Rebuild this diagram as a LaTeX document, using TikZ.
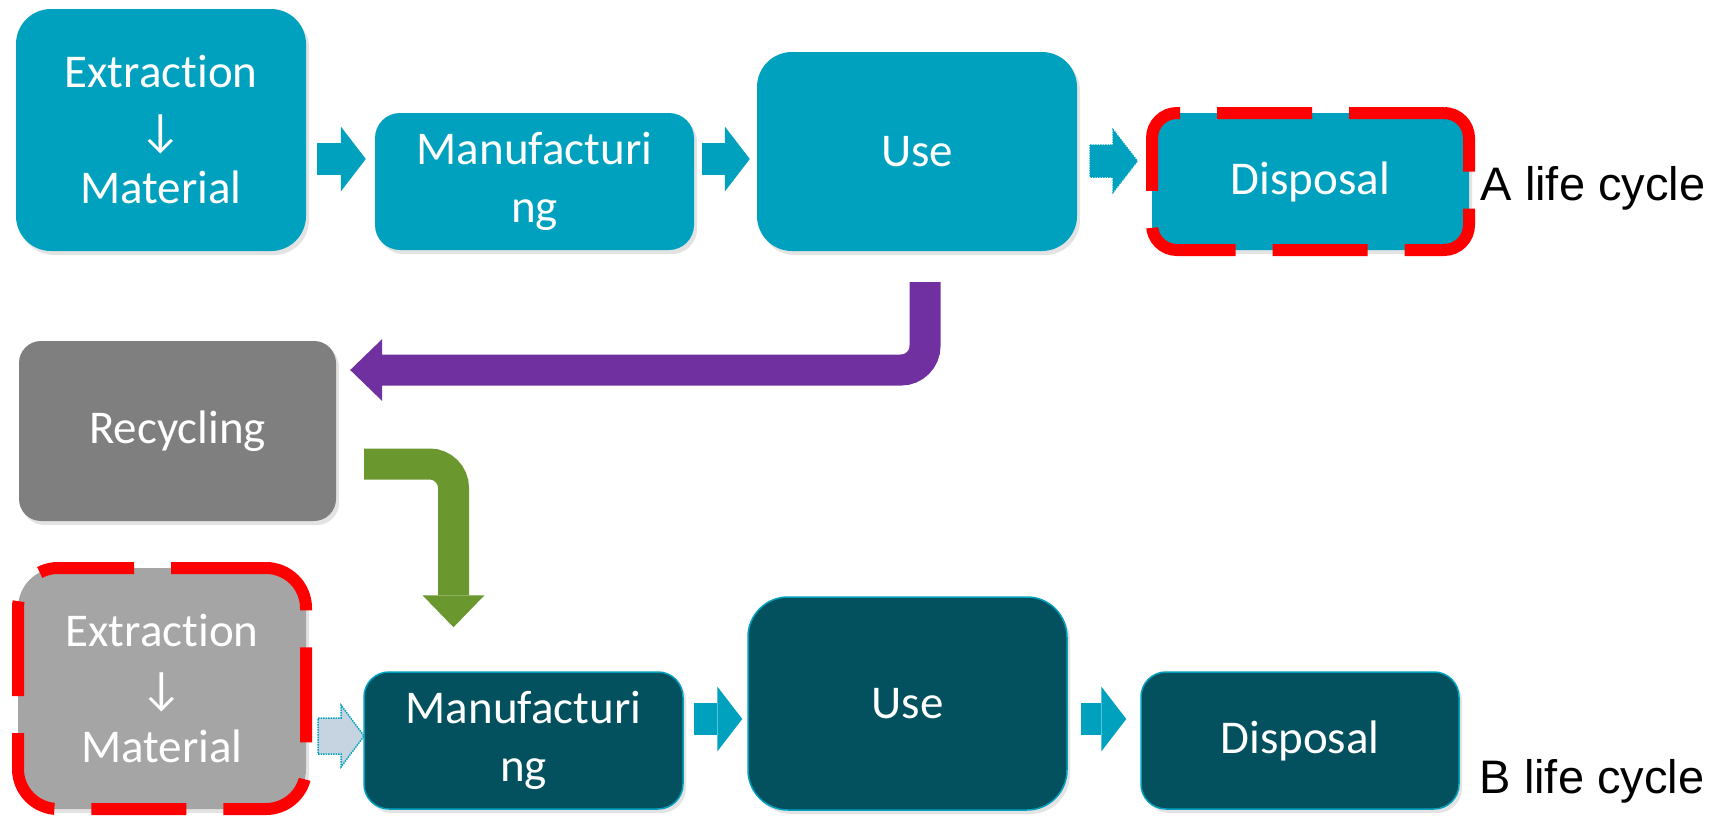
\documentclass[tikz,border=0pt]{standalone}
\usepackage{fontspec}
\setmainfont{Carlito}[RawFeature={-liga;-clig;-calt;-dlig}]
\newfontfamily\arialfont{Liberation Sans}
\usetikzlibrary{arrows.meta,shadows,calc}
\definecolor{tealA}{HTML}{00A1BE}
\definecolor{tealB}{HTML}{03505E}
\definecolor{recgray}{HTML}{7F7F7F}
\definecolor{oldgray}{HTML}{A5A5A5}
\definecolor{loopviolet}{HTML}{7030A0}
\definecolor{loopgreen}{HTML}{6B972F}
\definecolor{dotfill}{HTML}{C6D3E0}
\tikzset{
  stage/.style={rounded corners=25pt, text=white, align=center, inner sep=0pt,
    font=\fontsize{47}{58}\selectfont,
    drop shadow={shadow xshift=3pt,shadow yshift=-4pt,opacity=0.22}},
  stageA/.style={stage, fill=tealA},
  stageB/.style={stage, fill=tealB, draw=tealA, line width=1.5pt},
  lost/.style={draw=red, line width=12pt, dash pattern=on 95pt off 37pt},
  flow/.style={tealA, line width=32pt, -{Triangle[width=65pt,length=25pt,line width=0pt]}},
  dotflow/.style={draw=tealA, densely dotted, line width=1.5pt},
  loop/.style={line width=31pt, rounded corners=24pt, -{Triangle[width=62pt,length=32pt,line width=0pt]}},
  lbl/.style={font=\arialfont\fontsize{47}{56}\selectfont, inner sep=0pt}
}

\begin{document}
\begin{tikzpicture}[x=1pt,y=-1pt]
\useasboundingbox (0,0) rectangle (1714,817);
\node[stageA, minimum width=290pt, minimum height=242pt, rounded corners=35pt] (extA) at (161,130) {Extraction\\↓\\Material};
\node[stageA, minimum width=319pt, minimum height=137pt] (manA) at (534.5,181.5) {Manufacturi\\ng};
\node[stageA, minimum width=320pt, minimum height=199pt, rounded corners=35pt] (useA) at (917,151.5) {Use};
\node[stageA, lost, minimum width=317pt, minimum height=137pt] (disA) at (1310.5,181.5) {Disposal};
\node[lbl] (labA) at (1593,188) {A life cycle};
\node[stage, fill=recgray, minimum width=317pt, minimum height=180pt, rounded corners=22pt] (rec) at (177.5,431) {Recycling};
\node[stage, fill=oldgray, lost, minimum width=288pt, minimum height=241pt, rounded corners=40pt] (extB) at (162,688.5) {Extraction\\↓\\Material};
\node[stageB, minimum width=319pt, minimum height=137pt] (manB) at (523.5,740.5) {Manufacturi\\ng};
\node[stageB, minimum width=319pt, minimum height=213pt, rounded corners=40pt] (useB) at (907.5,703.5) {Use};
\node[stageB, minimum width=318pt, minimum height=137pt] (disB) at (1300,740.5) {Disposal};
\node[lbl] (labB) at (1592,781) {B life cycle};

\coordinate (rowA) at (0,159);
\coordinate (rowB) at (0,719);
\draw[flow, shorten <=11pt, shorten >=9pt] (extA.east |- rowA) -- (manA.west |- rowA);
\draw[flow, shorten <=8pt, shorten >=7pt] (manA.east |- rowA) -- (useA.west |- rowA);
\draw[dotflow, fill=tealA] ($(useA.east)+(13,-6.5)$) -- ++(23,0) -- ++(0,-15) -- ++(24,31)
	-- ++(-24,31) -- ++(0,-15) -- ++(-23,0) -- cycle;
\draw[dotflow, fill=dotfill] ($(extB.east)+(6,29.5)$) -- ++(23,0) -- ++(0,-13) -- ++(23,31)
	-- ++(-23,31) -- ++(0,-13) -- ++(-23,0) -- cycle;
\draw[flow, shorten <=10pt, shorten >=5pt] (manB.east |- rowB) -- (useB.west |- rowB);
\draw[flow, shorten <=13pt, shorten >=14pt] (useB.east |- rowB) -- (disB.west |- rowB);
\draw[loop, loopviolet] ($(useA.south)+(8,31)$) |- ($(rec.east)+(14,-61)$);
\draw[loop, loopgreen] ($(rec.east)+(28,33)$) -| ($(manB.north)+(-70,-44)$);
\end{tikzpicture}
\end{document}
